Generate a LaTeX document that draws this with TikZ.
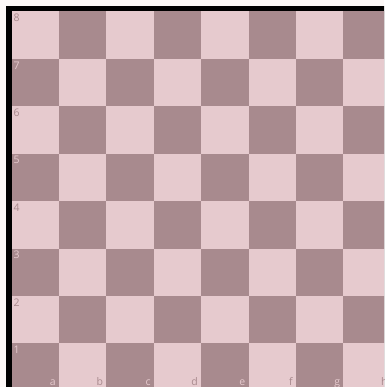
\documentclass[tikz,border=0pt]{standalone}
\usepackage{fontspec}
\setsansfont{Open Sans}
\usepackage{tikz}
\usetikzlibrary{positioning}
\definecolor{lightwood}{HTML}{E6CACE}
\definecolor{darkwood}{HTML}{A88A8E}
\definecolor{paper}{HTML}{FCF8F7}

\begin{document}
\begin{tikzpicture}[
  x=1pt, y=-1pt,
  sq/.style={minimum size=47.4pt, inner sep=0pt, outer sep=0pt, anchor=north west},
  lightsq/.style={sq, fill=lightwood},
  darksq/.style={sq, fill=darkwood},
  coordlbl/.style={font=\sffamily\fontsize{10.5}{10.5}\selectfont, inner sep=0pt}
]
\useasboundingbox (0,0) rectangle (384,387);
\fill[paper] (0,0) rectangle (384,387);
\clip (0,0) rectangle (384,387);
% frame
\fill[black] (6,6) rectangle (400,400);
% squares, rank 8 on top
\foreach \f [count=\i from 0] in {a,b,c,d,e,f,g,h} {
  \foreach \j in {0,...,7} {
    \pgfmathtruncatemacro{\r}{8-\j}
    \pgfmathtruncatemacro{\p}{mod(\i+\j,2)}
    \ifnum\p=0
      \node[lightsq] (\f\r) at ({11.5+47.4*\i},{11.5+47.4*\j}) {};
    \else
      \node[darksq] (\f\r) at ({11.5+47.4*\i},{11.5+47.4*\j}) {};
    \fi
  }
}
% rank numbers on the a-file
\foreach \r in {1,...,8} {
  \pgfmathtruncatemacro{\p}{mod(\r,2)}
  \ifnum\p=0
    \node[coordlbl, text=darkwood, anchor=north west] (rk\r) at ([shift={(2,2.5)}]a\r.north west) {\r};
  \else
    \node[coordlbl, text=lightwood, anchor=north west] (rk\r) at ([shift={(2,2.5)}]a\r.north west) {\r};
  \fi
}
% file letters on rank 1
\foreach \f [count=\i from 0] in {a,b,c,d,e,f,g,h} {
  \pgfmathtruncatemacro{\p}{mod(\i,2)}
  \ifnum\p=0
    \node[coordlbl, text=lightwood, anchor=base east] (fl\f) at ([shift={(-3,-5.5)}]\f1.south east) {\f};
  \else
    \node[coordlbl, text=darkwood, anchor=base east] (fl\f) at ([shift={(-3,-5.5)}]\f1.south east) {\f};
  \fi
}
\end{tikzpicture}
\end{document}
